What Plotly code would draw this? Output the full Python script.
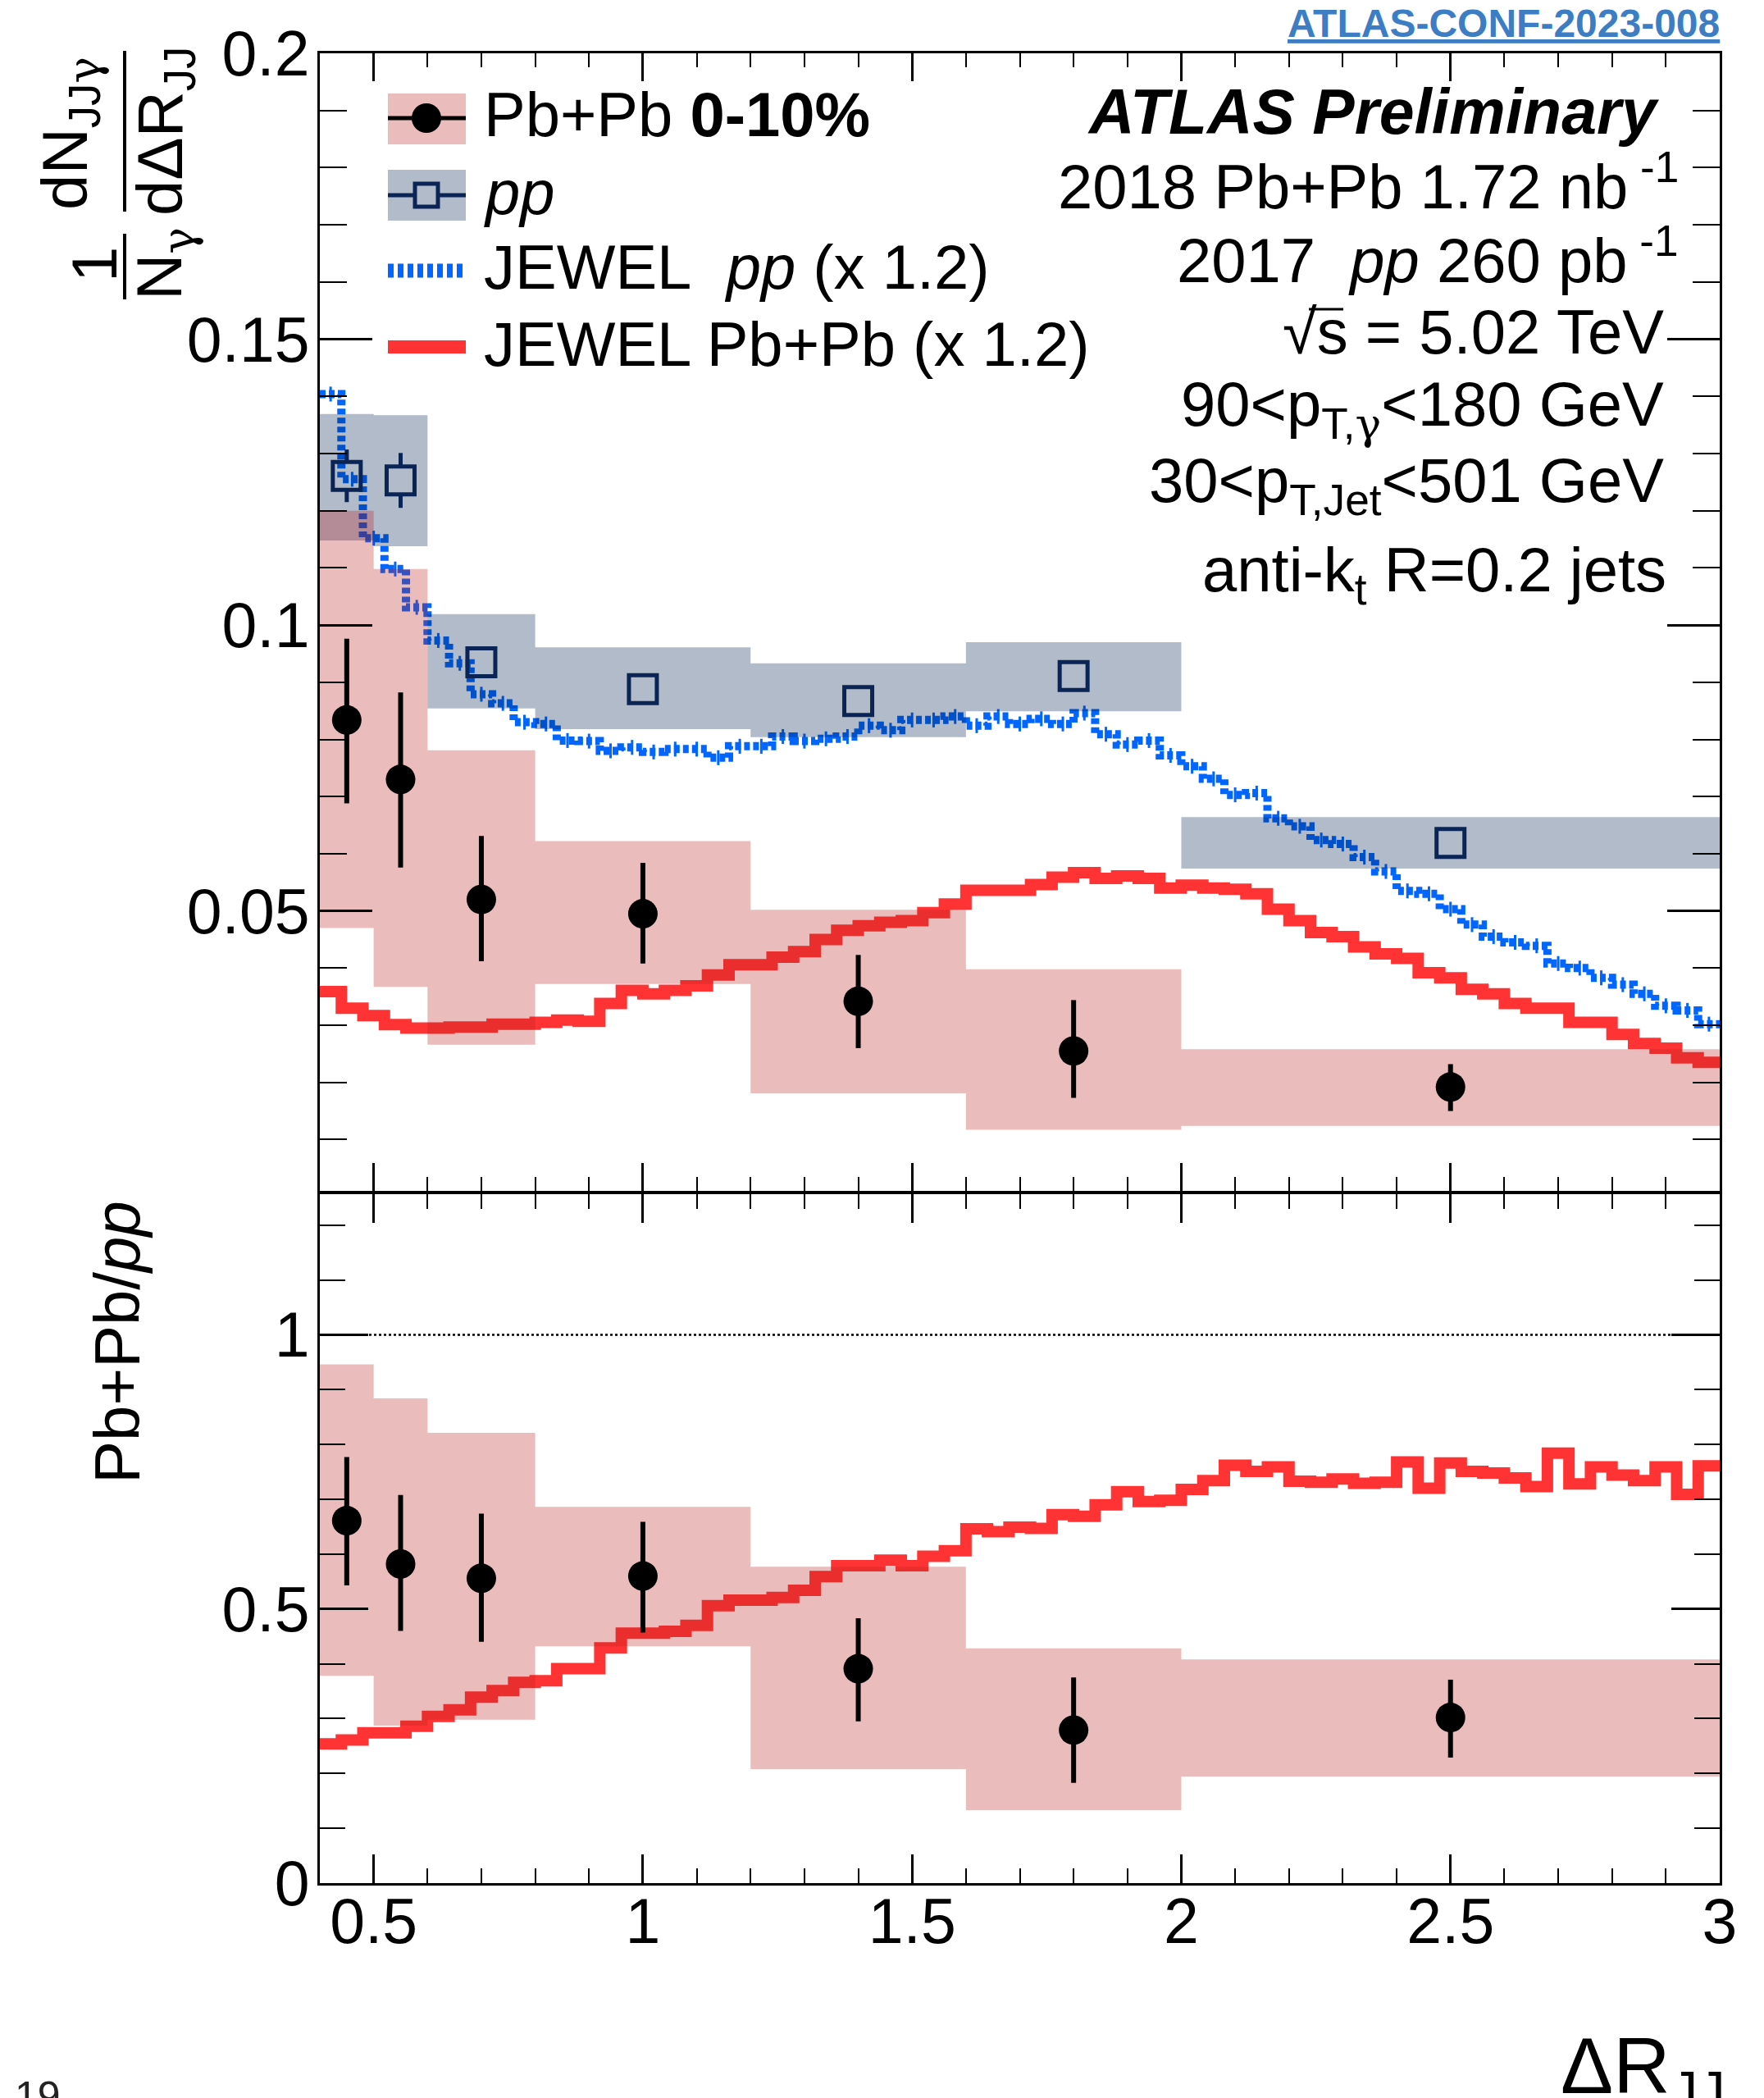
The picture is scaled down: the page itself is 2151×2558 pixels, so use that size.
import plotly.graph_objects as go

# ---------------- data ----------------
bin_lo = [0.4, 0.5, 0.6, 0.8, 1.2, 1.6, 2.0]
bin_hi = [0.5, 0.6, 0.8, 1.2, 1.6, 2.0, 3.0]
bin_center = [0.45, 0.55, 0.7, 1.0, 1.4, 1.8, 2.5]

pbpb_val = [0.0834, 0.0730, 0.0520, 0.0495, 0.0342, 0.0255, 0.0192]
pbpb_stat_hi = [0.0976, 0.0882, 0.0631, 0.0584, 0.0423, 0.0344, 0.0232]
pbpb_stat_lo = [0.0688, 0.0576, 0.0412, 0.0408, 0.0260, 0.0173, 0.0150]
pbpb_sys_hi = [0.1200, 0.1098, 0.0781, 0.0622, 0.0502, 0.0398, 0.0258]
pbpb_sys_lo = [0.0470, 0.0367, 0.0266, 0.0372, 0.0181, 0.0117, 0.0124]

pp_val = [0.1261, 0.1253, 0.0935, 0.0888, 0.0867, 0.0911, 0.0619]
pp_stat = [0.0046, 0.0048, 0.0012, 0.0010, 0.0010, 0.0010, 0.0010]
pp_sys_hi = [0.1369, 0.1367, 0.1019, 0.0961, 0.0933, 0.0970, 0.0664]
pp_sys_lo = [0.1148, 0.1138, 0.0854, 0.0818, 0.0804, 0.0849, 0.0574]

ratio_val = [0.661, 0.582, 0.556, 0.560, 0.391, 0.279, 0.302]
ratio_stat_hi = [0.777, 0.708, 0.674, 0.659, 0.483, 0.375, 0.371]
ratio_stat_lo = [0.543, 0.460, 0.440, 0.457, 0.295, 0.183, 0.229]
ratio_sys_hi = [0.946, 0.884, 0.821, 0.686, 0.577, 0.428, 0.408]
ratio_sys_lo = [0.378, 0.287, 0.298, 0.432, 0.208, 0.133, 0.194]

# JEWEL histograms: 65 bins of width 0.04 from 0.40 to 3.00
jewel_lo_edge = 0.40
jewel_bin_w = 0.04
jewel_pp = [0.1404, 0.1255, 0.1152, 0.1098, 0.1031, 0.0973, 0.0933, 0.0879, 0.0863, 0.0830,
            0.0827, 0.0798, 0.0797, 0.0780, 0.0786, 0.0778, 0.0783, 0.0783, 0.0768, 0.0788,
            0.0788, 0.0805, 0.0797, 0.0801, 0.0805, 0.0824, 0.0816, 0.0834, 0.0834, 0.0840,
            0.0824, 0.0840, 0.0827, 0.0836, 0.0827, 0.0846, 0.0809, 0.0791, 0.0798, 0.0772,
            0.0753, 0.0731, 0.0703, 0.0706, 0.0662, 0.0648, 0.0624, 0.0617, 0.0594, 0.0569,
            0.0535, 0.0530, 0.0503, 0.0476, 0.0455, 0.0445, 0.0439, 0.0408, 0.0400, 0.0383,
            0.0371, 0.0355, 0.0334, 0.0326, 0.0302]
jewel_pbpb = [0.0359, 0.0330, 0.0317, 0.0301, 0.0295, 0.0295, 0.0297, 0.0297, 0.0302, 0.0302,
              0.0305, 0.0309, 0.0307, 0.0338, 0.0361, 0.0355, 0.0361, 0.0369, 0.0388, 0.0406,
              0.0406, 0.0419, 0.0429, 0.0450, 0.0466, 0.0474, 0.0480, 0.0483, 0.0497, 0.0512,
              0.0536, 0.0536, 0.0536, 0.0546, 0.0559, 0.0567, 0.0557, 0.0561, 0.0557, 0.0540,
              0.0545, 0.0540, 0.0538, 0.0530, 0.0503, 0.0483, 0.0462, 0.0455, 0.0437, 0.0425,
              0.0417, 0.0392, 0.0383, 0.0363, 0.0355, 0.0338, 0.0330, 0.0330, 0.0305, 0.0305,
              0.0284, 0.0268, 0.0260, 0.0243, 0.0235]
jewel_ratio = [0.254, 0.261, 0.274, 0.274, 0.286, 0.304, 0.316, 0.339, 0.351, 0.366,
               0.369, 0.391, 0.391, 0.429, 0.456, 0.456, 0.459, 0.470, 0.506, 0.516,
               0.516, 0.521, 0.534, 0.559, 0.579, 0.579, 0.589, 0.579, 0.596, 0.606,
               0.646, 0.641, 0.649, 0.647, 0.672, 0.669, 0.690, 0.714, 0.696, 0.698,
               0.718, 0.734, 0.762, 0.751, 0.759, 0.733, 0.731, 0.737, 0.729, 0.731,
               0.768, 0.720, 0.766, 0.751, 0.748, 0.739, 0.723, 0.784, 0.728, 0.759,
               0.744, 0.734, 0.759, 0.709, 0.761]
jewel_pp_err = 0.0013

x_range = [0.4, 3.0]
y_top_range = [0.00103, 0.2]
y_bot_range = [0.0, 1.2564]
y_top_ticks = [0.05, 0.1, 0.15, 0.2]
y_top_ticktext = ["0.05", "0.1", "0.15", "0.2"]
y_bot_ticks = [0, 0.5, 1]
y_bot_ticktext = ["0", "0.5", "1"]
x_ticks = [0.5, 1.0, 1.5, 2.0, 2.5, 3.0]
x_ticktext = ["0.5", "1", "1.5", "2", "2.5", "3"]

# ---------------- styles ----------------
BLUE = "#0066ff"
RED = "#ff3333"
NAVY = "#0a2455"
PINK_FILL = "rgba(185,32,32,0.30)"
GREY_FILL = "rgba(0,30,80,0.30)"
FONT = "Liberation Sans"
GAM = "<span style='font-family:DejaVu Serif'>γ</span>"
PP_MARKER_GAP = 0.0025  # half of the open-square marker, so error bars stop at its edge

W, H = 2151, 2558
L, R, T, B = 390, 54, 65, 262
PW = W - L - R
PH = H - T - B


def P(X, Y):
    return (X - L) / PW, 1 - (Y - T) / PH


def step_xy(vals):
    n = len(vals)
    xs = [jewel_lo_edge + jewel_bin_w * i for i in range(n + 1)]
    ys = list(vals) + [vals[-1]]
    return xs, ys


def centers(vals):
    return [jewel_lo_edge + jewel_bin_w * (i + 0.5) for i in range(len(vals))]


def boxes(lo_x, hi_x, lo_y, hi_y):
    xs, ys = [], []
    for a, b, c, d in zip(lo_x, hi_x, lo_y, hi_y):
        xs += [a, b, b, a, a, None]
        ys += [c, c, d, d, c, None]
    return xs, ys


def outer_errbars(xc, val, err, gap):
    xs, ys = [], []
    for x, v, e in zip(xc, val, err):
        if e <= gap:
            continue
        xs += [x, x, None, x, x, None]
        ys += [v + gap, v + e, None, v - gap, v - e, None]
    return xs, ys


fig = go.Figure()

# ---- top panel ----
sx, sy = step_xy(jewel_pp)
fig.add_trace(go.Scatter(x=sx, y=sy, mode="lines", line=dict(color=BLUE, width=10, shape="hv", dash="7px,4px"),
                         xaxis="x", yaxis="y", hoverinfo="skip"))
fig.add_trace(go.Scatter(x=centers(jewel_pp), y=jewel_pp, mode="markers", marker=dict(size=1, color=BLUE, opacity=0),
                         error_y=dict(type="constant", value=jewel_pp_err, color=BLUE, thickness=3, width=0),
                         xaxis="x", yaxis="y", hoverinfo="skip"))
sx, sy = step_xy(jewel_pbpb)
fig.add_trace(go.Scatter(x=sx, y=sy, mode="lines", line=dict(color=RED, width=14, shape="hv"),
                         xaxis="x", yaxis="y", hoverinfo="skip"))

bx, by = boxes(bin_lo, bin_hi, pp_sys_lo, pp_sys_hi)
fig.add_trace(go.Scatter(x=bx, y=by, mode="none", fill="toself", fillcolor=GREY_FILL, xaxis="x", yaxis="y"))
bx, by = boxes(bin_lo, bin_hi, pbpb_sys_lo, pbpb_sys_hi)
fig.add_trace(go.Scatter(x=bx, y=by, mode="none", fill="toself", fillcolor=PINK_FILL, xaxis="x", yaxis="y"))

ex, ey = outer_errbars(bin_center, pp_val, pp_stat, PP_MARKER_GAP)
fig.add_trace(go.Scatter(x=ex, y=ey, mode="lines", line=dict(color=NAVY, width=5), xaxis="x", yaxis="y",
                         hoverinfo="skip"))
fig.add_trace(go.Scatter(x=bin_center, y=pp_val, mode="markers",
                         marker=dict(symbol="square-open", size=34, color=NAVY, line=dict(width=5, color=NAVY)),
                         xaxis="x", yaxis="y"))
fig.add_trace(go.Scatter(x=bin_center, y=pbpb_val, mode="markers",
                         marker=dict(symbol="circle", size=36, color="black"),
                         error_y=dict(type="data", symmetric=False,
                                      array=[h - v for h, v in zip(pbpb_stat_hi, pbpb_val)],
                                      arrayminus=[v - l for v, l in zip(pbpb_val, pbpb_stat_lo)],
                                      color="black", thickness=6, width=0),
                         xaxis="x", yaxis="y"))

# ---- bottom panel ----
fig.add_trace(go.Scatter(x=x_range, y=[1, 1], mode="lines", line=dict(color="black", width=2.5, dash="dot"),
                         xaxis="x2", yaxis="y2", hoverinfo="skip"))
sx, sy = step_xy(jewel_ratio)
fig.add_trace(go.Scatter(x=sx, y=sy, mode="lines", line=dict(color=RED, width=14, shape="hv"),
                         xaxis="x2", yaxis="y2", hoverinfo="skip"))
bx, by = boxes(bin_lo, bin_hi, ratio_sys_lo, ratio_sys_hi)
fig.add_trace(go.Scatter(x=bx, y=by, mode="none", fill="toself", fillcolor=PINK_FILL, xaxis="x2", yaxis="y2"))
fig.add_trace(go.Scatter(x=bin_center, y=ratio_val, mode="markers",
                         marker=dict(symbol="circle", size=36, color="black"),
                         error_y=dict(type="data", symmetric=False,
                                      array=[h - v for h, v in zip(ratio_stat_hi, ratio_val)],
                                      arrayminus=[v - l for v, l in zip(ratio_val, ratio_stat_lo)],
                                      color="black", thickness=6, width=0),
                         xaxis="x2", yaxis="y2"))

ax_common = dict(showgrid=False, zeroline=False, showline=True, linecolor="black", linewidth=3,
                 mirror="ticks", ticks="inside", tickcolor="black", tickwidth=2.5,
                 tickfont=dict(family=FONT, size=77, color="black"))

top_dom = [1 - (1452 - T) / PH, 1]
bot_dom = [0, 1 - (1456 - T) / PH]

fig.update_layout(
    width=W, height=H, margin=dict(l=L, r=R, t=T, b=B),
    paper_bgcolor="white", plot_bgcolor="white", showlegend=False,
    font=dict(family=FONT, color="black", size=76),
    xaxis=dict(**ax_common, domain=[0, 1], anchor="y", range=x_range, tickvals=x_ticks,
               ticklen=34, showticklabels=False,
               minor=dict(ticks="inside", tickmode="linear", tick0=0.4, dtick=0.1, ticklen=17,
                          tickwidth=2, tickcolor="black")),
    xaxis2=dict(**ax_common, domain=[0, 1], anchor="y2", range=x_range, tickvals=x_ticks,
                ticktext=x_ticktext, ticklen=35, ticklabelstandoff=-22,
                minor=dict(ticks="inside", tickmode="linear", tick0=0.4, dtick=0.1, ticklen=18,
                           tickwidth=2, tickcolor="black")),
    yaxis=dict(**ax_common, domain=top_dom, anchor="x", range=y_top_range, tickvals=y_top_ticks,
               ticktext=y_top_ticktext, ticklen=64, ticklabelstandoff=-6,
               minor=dict(ticks="inside", tickmode="linear", tick0=0, dtick=0.01, ticklen=33,
                          tickwidth=2, tickcolor="black")),
    yaxis2=dict(**ax_common, domain=bot_dom, anchor="x2", range=y_bot_range, tickvals=y_bot_ticks,
                ticktext=y_bot_ticktext, ticklen=59, ticklabelstandoff=-6,
                minor=dict(ticks="inside", tickmode="linear", tick0=0, dtick=0.1, ticklen=31,
                           tickwidth=2, tickcolor="black")),
)


def add_text(text, X, Y, size=76, xanchor="left", yanchor="middle", angle=0, color="black"):
    x, y = P(X, Y)
    fig.add_annotation(text=text, x=x, y=y, xref="paper", yref="paper", xanchor=xanchor, yanchor=yanchor,
                       showarrow=False, textangle=angle, font=dict(size=size, color=color, family=FONT))


def add_line(X0, Y0, X1, Y1, color="black", width=4, dash=None):
    x0, y0 = P(X0, Y0)
    x1, y1 = P(X1, Y1)
    line = dict(color=color, width=width)
    if dash:
        line["dash"] = dash
    fig.add_shape(type="line", xref="paper", yref="paper", x0=x0, y0=y0, x1=x1, y1=y1, line=line)


def add_rect(X0, Y0, X1, Y1, fill):
    x0, y0 = P(X0, Y0)
    x1, y1 = P(X1, Y1)
    fig.add_shape(type="rect", xref="paper", yref="paper", x0=x0, y0=y0, x1=x1, y1=y1,
                  fillcolor=fill, line=dict(width=0))


def add_marker_shape(kind, X, Y, size, fill, line_color, line_width):
    xa, ya = P(X, Y)
    fig.add_shape(type=kind, xref="paper", yref="paper", xsizemode="pixel", ysizemode="pixel",
                  xanchor=xa, yanchor=ya, x0=-size / 2, x1=size / 2, y0=-size / 2, y1=size / 2,
                  fillcolor=fill, line=dict(color=line_color, width=line_width))


# ---- legend ----
add_rect(473, 114, 568, 176, PINK_FILL)
add_line(473, 144, 568, 144, "black", 5)
add_marker_shape("circle", 520, 144, 36, "black", "black", 0)
add_rect(473, 207, 568, 269, GREY_FILL)
add_line(473, 238, 504, 238, NAVY, 5)
add_line(536, 238, 568, 238, NAVY, 5)
add_marker_shape("rect", 520, 238, 28, "rgba(0,0,0,0)", NAVY, 5)
add_line(473, 330, 568, 330, BLUE, 17, "7px,5px")
add_line(473, 423, 568, 423, RED, 16)

add_text("Pb+Pb\u00a0<b>0-10%</b>", 588, 140)
add_text("<i>pp</i>", 588, 234)
add_text("JEWEL\u00a0\u00a0<i>pp</i> (x 1.2)", 588, 326)
add_text("JEWEL Pb+Pb (x 1.2)", 588, 419)

# ---- right-hand labels ----
add_text("<b><i>ATLAS Preliminary</i></b>", 2026, 136, size=77, xanchor="right")
add_text("2018 Pb+Pb 1.72 nb<sup> -1</sup>", 2049, 222, xanchor="right")
add_text("2017\u00a0\u00a0<i>pp</i> 260 pb<sup> -1</sup>", 2049, 312, xanchor="right")
add_text("√s = 5.02 TeV", 2031, 404, xanchor="right")
add_line(1596, 377, 1638, 377, "black", 3)
add_text("90&lt;p<sub>T," + GAM + "</sub>&lt;180 GeV", 2031, 499, xanchor="right")
add_text("30&lt;p<sub>T,Jet</sub>&lt;501 GeV", 2031, 591, xanchor="right")
add_text("anti-k<sub>t</sub> R=0.2 jets", 2034, 700, xanchor="right")

# ---- header / footer ----
add_text("<b><span style='text-decoration:underline'>ATLAS-CONF-2023-008</span></b>", 2099, 28,
         size=48, xanchor="right", color="#3d7dc4")
add_text("19", 16, 2526, size=50, yanchor="top", color="#222222")

# ---- axis titles ----
add_text("ΔR<sub>JJ</sub>", 2106, 2525, size=96, xanchor="right")
add_text("Pb+Pb/<i>pp</i>", 143, 1636, size=78, xanchor="center", angle=-90)

add_text("1", 115, 323, size=78, xanchor="center", angle=-90)
add_text("N<sub>" + GAM + "</sub>", 200, 322, size=78, xanchor="center", angle=-90)
add_line(152, 285, 152, 365, "black", 4)
add_text("dN<sub>JJ" + GAM + "</sub>", 85, 163, size=78, xanchor="center", angle=-90)
add_line(152, 62, 152, 258, "black", 4)
add_text("dΔR<sub>JJ</sub>", 200, 160, size=78, xanchor="center", angle=-90)

fig.write_html("out.html", config={"displayModeBar": False},
               post_script="document.body.style.margin='0px';")
